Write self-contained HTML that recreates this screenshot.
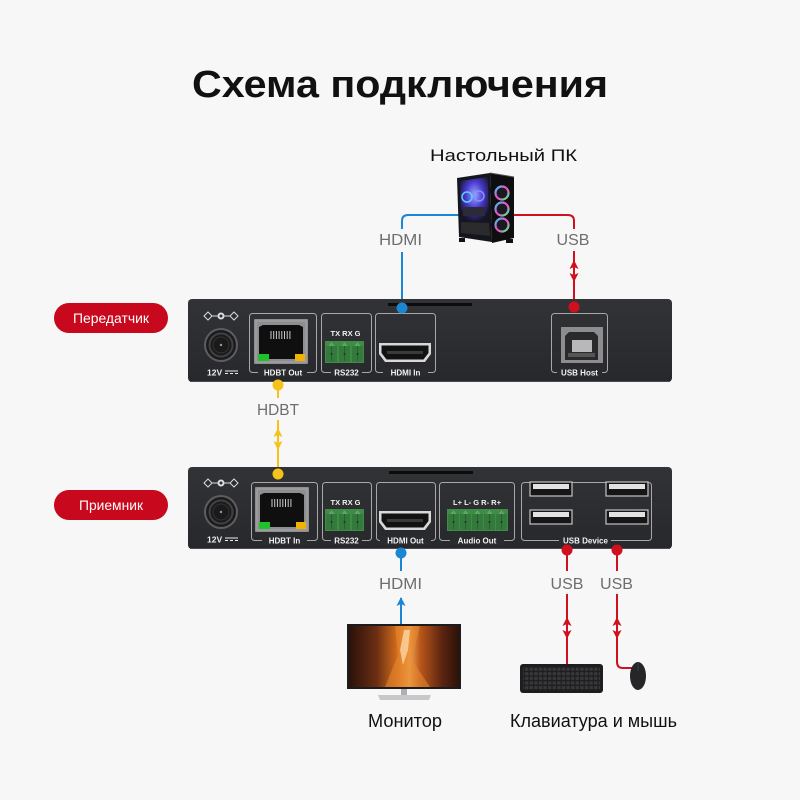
<!DOCTYPE html>
<html><head><meta charset="utf-8"><style>
html,body{margin:0;padding:0;background:#f7f7f7;}
svg{display:block;}
text{font-family:"Liberation Sans","DejaVu Sans",sans-serif;}
</style></head><body>
<svg width="800" height="800" viewBox="0 0 800 800" xmlns="http://www.w3.org/2000/svg">
<defs>
 <linearGradient id="dev" x1="0" y1="0" x2="0" y2="1">
  <stop offset="0" stop-color="#323336"/><stop offset="1" stop-color="#27282b"/>
 </linearGradient>
 <linearGradient id="scr" x1="0" y1="0" x2="1" y2="0">
  <stop offset="0" stop-color="#2a110a"/><stop offset="0.25" stop-color="#6a2e12"/>
  <stop offset="0.45" stop-color="#d8701e"/><stop offset="0.55" stop-color="#f0a050"/>
  <stop offset="0.65" stop-color="#b8561a"/><stop offset="0.85" stop-color="#5a2410"/>
  <stop offset="1" stop-color="#2c120a"/>
 </linearGradient>
 <radialGradient id="glow" cx="0.5" cy="0.4" r="0.6">
  <stop offset="0" stop-color="#9aa8ff"/><stop offset="0.5" stop-color="#4a3ad0"/><stop offset="1" stop-color="#15152a"/>
 </radialGradient>
 <linearGradient id="fan" x1="0" y1="0" x2="1" y2="1">
  <stop offset="0" stop-color="#30d0ff"/><stop offset="0.5" stop-color="#ff40c0"/><stop offset="1" stop-color="#40ff90"/>
 </linearGradient>
 <pattern id="keys" width="4.6" height="4.6" patternUnits="userSpaceOnUse">
  <rect x="0.6" y="0.6" width="3.4" height="3.2" fill="#38383b"/>
 </pattern>
 <g id="jack">
  <line x1="-13" y1="-29" x2="13" y2="-29" stroke="#ddd" stroke-width="1"/>
  <path d="M-13,-33 L-9,-29 L-13,-25 L-17,-29Z" fill="#2c2d30" stroke="#ddd" stroke-width="1"/>
  <path d="M13,-33 L17,-29 L13,-25 L9,-29Z" fill="#2c2d30" stroke="#ddd" stroke-width="1"/>
  <circle cx="0" cy="-29" r="3.5" fill="#ddd"/><circle cx="0" cy="-29" r="1.5" fill="#2c2d30"/>
  <circle r="17" fill="#5e5e60"/><circle r="15" fill="#1c1c1e"/>
  <circle r="12.5" fill="#414143"/><circle r="10.5" fill="#1a1a1b"/>
  <circle r="8" fill="none" stroke="#333" stroke-width="1"/>
  <circle r="1.2" fill="#999"/>
  <text x="-14" y="30.5" font-size="8.5" font-weight="bold" fill="#eee">12V</text>
  <line x1="4" y1="26" x2="17" y2="26" stroke="#eee" stroke-width="1"/>
  <line x1="4" y1="28.5" x2="17" y2="28.5" stroke="#eee" stroke-width="1" stroke-dasharray="3,2"/>
 </g>
 <g id="rj">
  <rect x="0" y="0" width="54" height="45" fill="#8e8e90" rx="1"/>
  <rect x="2" y="2" width="50" height="41" fill="none" stroke="#a8a8aa" stroke-width="1"/>
  <path d="M5,8 L9,6 L45,6 L49,8 L49,36 L42,36 L42,40 L12,40 L12,36 L5,36Z" fill="#0f0f10"/>
  <g stroke="#c8c8c8" stroke-width="1">
   <line x1="17" y1="12" x2="17" y2="20"/><line x1="19.7" y1="12" x2="19.7" y2="20"/>
   <line x1="22.4" y1="12" x2="22.4" y2="20"/><line x1="25.1" y1="12" x2="25.1" y2="20"/>
   <line x1="27.8" y1="12" x2="27.8" y2="20"/><line x1="30.5" y1="12" x2="30.5" y2="20"/>
   <line x1="33.2" y1="12" x2="33.2" y2="20"/><line x1="35.9" y1="12" x2="35.9" y2="20"/>
  </g>
  <rect x="4" y="35" width="11" height="7" fill="#1fc22b"/>
  <rect x="41" y="35" width="10" height="7" fill="#f0b400"/>
 </g>
 <g id="cell">
  <rect x="0" y="0" width="13" height="22" fill="#3f8c47"/>
  <rect x="1" y="5" width="11" height="16" fill="#357a3d"/>
  <path d="M6.5,1 L9.5,5 L3.5,5Z" fill="#5aa862"/>
  <line x1="6.5" y1="5" x2="6.5" y2="20" stroke="#2a5e30" stroke-width="1"/>
  <circle cx="6.5" cy="13" r="1" fill="#1c3a1f"/>
 </g>
 <g id="hdmi">
  <path d="M0,0 L52,0 L52,11 L46,19 L6,19 L0,11Z" fill="#d8d8d8"/>
  <path d="M2.5,2.5 L49.5,2.5 L49.5,10 L44.5,16.5 L7.5,16.5 L2.5,10Z" fill="#121212"/>
  <rect x="8" y="8" width="36" height="3" fill="#3a3a3a"/>
 </g>
 <g id="dbl">
  <path d="M0,0 L4.5,9 L0,7 L-4.5,9Z"/>
  <path d="M0,22 L4.5,13 L0,15 L-4.5,13Z"/>
 </g>
</defs>

<rect width="800" height="800" fill="#f7f7f7"/>

<text x="400" y="97" font-size="38" font-weight="bold" text-anchor="middle" textLength="416" lengthAdjust="spacingAndGlyphs" fill="#111">Схема подключения</text>

<text x="503.5" y="161" font-size="17" text-anchor="middle" textLength="147" lengthAdjust="spacingAndGlyphs" fill="#111">Настольный ПК</text>

<g fill="none" stroke-width="2">
 <path d="M460,215 H408 Q402,215 402,221 V229 M402,252 V308" stroke="#1a86d4"/>
 <path d="M512,215 H568 Q574,215 574,221 V229 M574,251 V307" stroke="#d0101e"/>
 <path d="M278,385 V398 M278,420 V474" stroke="#f5c21a"/>
 <path d="M401,553 V571 M401,598 V625" stroke="#1a86d4"/>
 <path d="M567,550 V571 M567,594 V665" stroke="#d0101e"/>
 <path d="M617,550 V571 M617,594 V662 Q617,668 623,668 H632" stroke="#d0101e"/>
</g>
<use href="#dbl" x="574" y="260" fill="#d0101e"/>
<use href="#dbl" x="278" y="428" fill="#f5c21a"/>
<use href="#dbl" x="567" y="617" fill="#d0101e"/>
<use href="#dbl" x="617" y="617" fill="#d0101e"/>
<path d="M401,597 L405.5,606 L401,604 L396.5,606Z" fill="#1a86d4"/>

<g font-size="16" fill="#6e6e6e" text-anchor="middle">
 <text x="400.5" y="245" textLength="43" lengthAdjust="spacingAndGlyphs">HDMI</text>
 <text x="573" y="245">USB</text>
 <text x="278" y="415" textLength="42" lengthAdjust="spacingAndGlyphs">HDBT</text>
 <text x="400.5" y="589" textLength="43" lengthAdjust="spacingAndGlyphs">HDMI</text>
 <text x="567" y="589">USB</text>
 <text x="616.5" y="589">USB</text>
</g>

<g>
 <path d="M457,178 L490,173 L492,242 L459,237Z" fill="#15151c"/>
 <path d="M460,181 L488,177 L489,222 L461,220Z" fill="url(#glow)"/>
 <circle cx="467" cy="197" r="5" fill="none" stroke="#5ad0ff" stroke-width="1.5"/>
 <circle cx="479" cy="196" r="5" fill="none" stroke="#8a90ff" stroke-width="1.5"/>
 <rect x="463" y="207" width="22" height="9" fill="#2a2a3a"/>
 <path d="M461,222 L489,223 L490,236 L461,233Z" fill="#2b2b2e"/>
 <path d="M490,173 L514,177 L514,238 L492,243Z" fill="#0e0e10"/>
 <path d="M490,173 L514,177" stroke="#555" stroke-width="1"/>
 <circle cx="502" cy="193" r="6.5" fill="#1a1a22" stroke="url(#fan)" stroke-width="2.2"/>
 <circle cx="502" cy="209" r="6.5" fill="#1a1a22" stroke="url(#fan)" stroke-width="2.2"/>
 <circle cx="502" cy="225" r="6.5" fill="#1a1a22" stroke="url(#fan)" stroke-width="2.2"/>
 <rect x="459" y="238" width="6" height="4" fill="#111"/>
 <rect x="506" y="239" width="7" height="4" fill="#111"/>
</g>

<rect x="54" y="303" width="114" height="30" rx="15" fill="#c8081c"/>
<text x="111" y="323" font-size="14" fill="#fff" text-anchor="middle" textLength="76" lengthAdjust="spacingAndGlyphs">Передатчик</text>
<rect x="54" y="490" width="114" height="30" rx="15" fill="#c8081c"/>
<text x="111" y="510" font-size="14" fill="#fff" text-anchor="middle" textLength="64" lengthAdjust="spacingAndGlyphs">Приемник</text>

<g>
 <rect x="188" y="299" width="484" height="83" rx="4" fill="url(#dev)"/>
 <line x1="190" y1="381.5" x2="670" y2="381.5" stroke="#4a4b4e" stroke-width="1"/>
 <rect x="388" y="303" width="84" height="3" fill="#0c0c0c"/>
 <use href="#jack" x="221" y="345"/>
 <g fill="none" stroke="#a8a8a8" stroke-width="1">
  <rect x="249.5" y="313.5" width="67" height="59" rx="3"/>
  <rect x="321.5" y="313.5" width="50" height="59" rx="3"/>
  <rect x="375.5" y="313.5" width="60" height="59" rx="3"/>
  <rect x="551.5" y="313.5" width="56" height="59" rx="3"/>
 </g>
 <g fill="#2a2b2e">
  <rect x="258" y="368" width="49" height="9"/>
  <rect x="331" y="368" width="31" height="9"/>
  <rect x="383" y="368" width="45" height="9"/>
  <rect x="557" y="368" width="45" height="9"/>
 </g>
 <g font-size="8" font-weight="bold" fill="#f2f2f2" text-anchor="middle">
  <text x="283" y="375.5">HDBT Out</text>
  <text x="346.5" y="375.5">RS232</text>
  <text x="405.5" y="375.5">HDMI In</text>
  <text x="579.5" y="375.5">USB Host</text>
  <text x="345.5" y="336" font-size="7.5">TX RX  G</text>
 </g>
 <use href="#rj" x="254" y="319"/>
 <use href="#cell" x="325" y="341"/><use href="#cell" x="338" y="341"/><use href="#cell" x="351" y="341"/>
 <use href="#hdmi" x="379" y="343"/>
 <rect x="561" y="327" width="42" height="36" fill="#8d8d8f"/>
 <path d="M565,336 L569,332 L594,332 L598,336 L598,360 L565,360Z" fill="#2a2a2c"/>
 <rect x="572" y="340" width="20" height="12" fill="#b8b8ba"/>
 <rect x="568" y="353" width="27" height="4" fill="#555"/>
</g>

<g>
 <rect x="188" y="467" width="484" height="82" rx="4" fill="url(#dev)"/>
 <line x1="190" y1="548.5" x2="670" y2="548.5" stroke="#4a4b4e" stroke-width="1"/>
 <rect x="389" y="471" width="84" height="3" fill="#0c0c0c"/>
 <use href="#jack" x="221" y="512"/>
 <g fill="none" stroke="#a8a8a8" stroke-width="1">
  <rect x="251.5" y="482.5" width="66" height="58" rx="3"/>
  <rect x="322.5" y="482.5" width="49" height="58" rx="3"/>
  <rect x="376.5" y="482.5" width="59" height="58" rx="3"/>
  <rect x="439.5" y="482.5" width="75" height="58" rx="3"/>
  <rect x="521.5" y="482.5" width="130" height="58" rx="3"/>
 </g>
 <g fill="#2a2b2e">
  <rect x="262" y="536" width="45" height="9"/>
  <rect x="331" y="536" width="31" height="9"/>
  <rect x="380" y="536" width="51" height="9"/>
  <rect x="450" y="536" width="54" height="9"/>
  <rect x="559" y="536" width="52" height="9"/>
 </g>
 <g font-size="8" font-weight="bold" fill="#f2f2f2" text-anchor="middle">
  <text x="284.5" y="543.5">HDBT In</text>
  <text x="346.5" y="543.5">RS232</text>
  <text x="405.5" y="543.5">HDMI Out</text>
  <text x="477" y="543.5">Audio Out</text>
  <text x="585.5" y="543.5">USB Device</text>
  <text x="345.5" y="505" font-size="7.5">TX RX  G</text>
  <text x="477" y="505" font-size="7.5">L+  L-  G  R-  R+</text>
 </g>
 <use href="#rj" x="255" y="487"/>
 <use href="#cell" x="325" y="509"/><use href="#cell" x="338" y="509"/><use href="#cell" x="351" y="509"/>
 <use href="#cell" x="447" y="509"/><use href="#cell" x="459" y="509"/><use href="#cell" x="471" y="509"/><use href="#cell" x="483" y="509"/><use href="#cell" x="495" y="509"/>
 <use href="#hdmi" x="379" y="511"/>
 <g>
  <rect x="530" y="482" width="42" height="14" fill="#161617" stroke="#c4c4c4" stroke-width="1.2"/>
  <rect x="533" y="484" width="36" height="5" fill="#e2e2e2"/>
  <rect x="606" y="482" width="42" height="14" fill="#161617" stroke="#c4c4c4" stroke-width="1.2"/>
  <rect x="609" y="484" width="36" height="5" fill="#e2e2e2"/>
  <rect x="530" y="510" width="42" height="14" fill="#161617" stroke="#c4c4c4" stroke-width="1.2"/>
  <rect x="533" y="512" width="36" height="5" fill="#e2e2e2"/>
  <rect x="606" y="510" width="42" height="14" fill="#161617" stroke="#c4c4c4" stroke-width="1.2"/>
  <rect x="609" y="512" width="36" height="5" fill="#e2e2e2"/>
 </g>
</g>

<circle cx="402" cy="308" r="5.5" fill="#1a86d4"/>
<circle cx="574" cy="307" r="5.5" fill="#d0101e"/>
<circle cx="278" cy="385" r="5.5" fill="#f5c21a"/>
<circle cx="278" cy="474" r="5.5" fill="#f5c21a"/>
<circle cx="401" cy="553" r="5.5" fill="#1a86d4"/>
<circle cx="567" cy="550" r="5.5" fill="#d0101e"/>
<circle cx="617" cy="550" r="5.5" fill="#d0101e"/>

<rect x="347" y="624" width="114" height="65" fill="#1c1c1e"/>
<rect x="349" y="626" width="110" height="61" fill="url(#scr)"/>
<path d="M395,626 L420,626 L412,660 L430,687 L385,687 L398,655Z" fill="#e88a30" opacity="0.55"/>
<path d="M404,630 L410,630 L408,650 L403,665 L400,650Z" fill="#ffe0b0" opacity="0.7"/>
<rect x="401" y="689" width="6" height="6" fill="#b0b0b2"/>
<path d="M378,695 L431,695 L429,700 L380,700Z" fill="#c8c8ca"/>

<rect x="520" y="664" width="83" height="29" rx="3" fill="#1e1e20"/>
<rect x="523" y="667" width="77" height="23" fill="url(#keys)"/>
<ellipse cx="638" cy="676" rx="8" ry="14" fill="#262628"/>
<line x1="638" y1="663" x2="638" y2="671" stroke="#444" stroke-width="0.8"/>

<text x="405" y="727" font-size="18" text-anchor="middle" textLength="74" lengthAdjust="spacingAndGlyphs" fill="#111">Монитор</text>
<text x="593.5" y="727" font-size="18" text-anchor="middle" textLength="167" lengthAdjust="spacingAndGlyphs" fill="#111">Клавиатура и мышь</text>
</svg>
</body></html>
